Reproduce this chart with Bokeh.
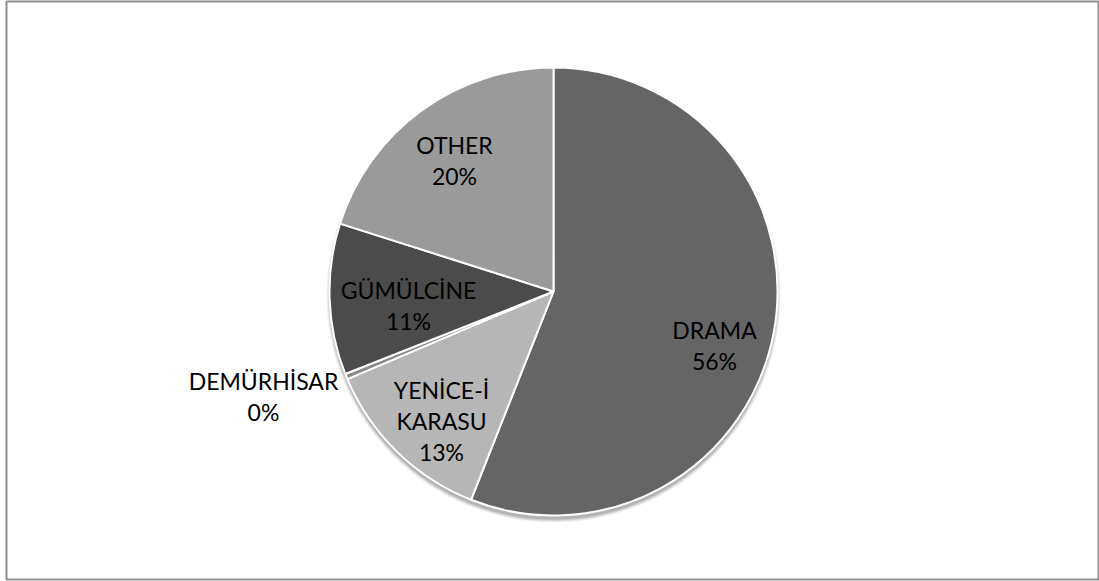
import math
from bokeh.plotting import figure
from bokeh.models import Range1d, ColumnDataSource
from bokeh.core.properties import value
from bokeh.embed import file_html
from bokeh.resources import INLINE

# ---- data ----
regions = ["DRAMA", "YENİCE-İ KARASU", "DEMÜRHİSAR", "GÜMÜLCİNE", "OTHER"]
name_lines = [["DRAMA"], ["YENİCE-İ", "KARASU"], ["DEMÜRHİSAR"], ["GÜMÜLCİNE"], ["OTHER"]]
shares = [56.0, 12.6, 0.4, 10.9, 20.1]

# ---- style / layout ----
colors = ["#656565", "#b6b6b6", "#8a8a8a", "#4b4b4b", "#9a9a9a"]
# label block centre offsets from pie centre (px, y up)
label_offsets = [(161, -53.5), (-112, -129), (-290, -104.5), (-145, -14), (-99, 131.5)]
W, H = 1099, 581
cx, cy, R = 553, 290, 224
line_gap = 31

total = sum(shares)
starts, ends = [], []
acc = 0.0
for s in shares:
    starts.append(math.pi / 2 - 2 * math.pi * acc / total)
    acc += s
    ends.append(math.pi / 2 - 2 * math.pi * acc / total)

src = ColumnDataSource(dict(x=[cx] * len(shares), y=[cy] * len(shares), start=starts, end=ends,
                            color=colors, region=regions, share=shares))

p = figure(width=W, height=H, output_backend="svg", toolbar_location=None,
           x_range=Range1d(6, 1098), y_range=Range1d(2, 580),
           min_border_left=6, min_border_right=1, min_border_top=1, min_border_bottom=2)
p.axis.visible = False
p.grid.visible = False
p.outline_line_color = "#8f8f8f"
p.outline_line_width = 2
p.background_fill_color = "white"
p.border_fill_color = "white"

# soft shadow (mostly below the pie)
for dr, a in [(3, 0.05), (2, 0.07), (1, 0.09), (0, 0.11)]:
    p.circle(x=cx, y=cy - 4, radius=R + dr, fill_color="#000000", fill_alpha=a, line_color=None)

p.wedge(x="x", y="y", radius=R, start_angle="start", end_angle="end", direction="clock",
        fill_color="color", line_color="white", line_width=2, source=src)

tx, ty, tt = [], [], []
for lines, s, (dx, dy) in zip(name_lines, shares, label_offsets):
    allines = lines + [f"{round(s)}%"]
    n = len(allines)
    for i, t in enumerate(allines):
        tx.append(cx + dx)
        ty.append(cy + dy + (n - 1) / 2 * line_gap - i * line_gap)
        tt.append(t)

p.text(x=tx, y=ty, text=tt, text_align="center", text_baseline="middle",
       text_font=value("Lato"), text_font_size="23px", text_color="#000000")

open("out.html", "w").write(file_html(p, INLINE))
